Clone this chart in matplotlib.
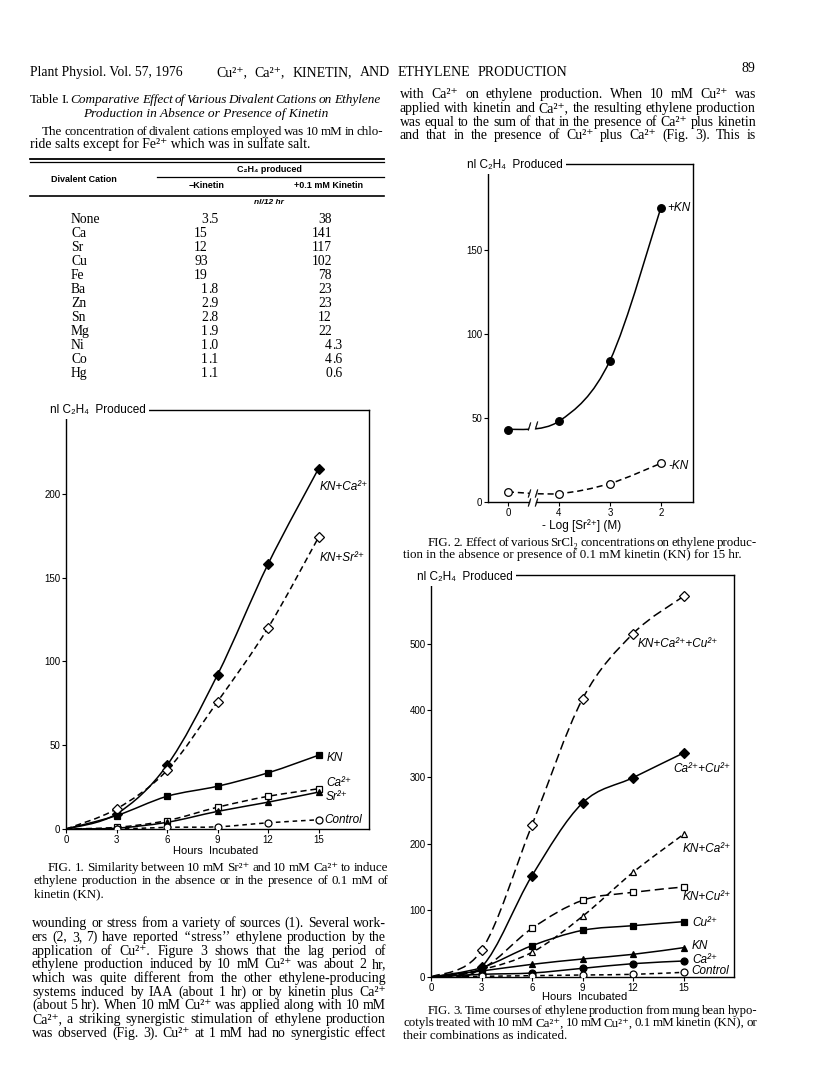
import matplotlib
matplotlib.use('Agg')
import numpy as np
import matplotlib.pyplot as plt
from matplotlib.path import Path
from matplotlib.patches import PathPatch, Rectangle
from matplotlib.lines import Line2D

W, H = 816, 1090
SERIF = ['Liberation Serif', 'DejaVu Serif']
SANS = ['Liberation Sans Narrow', 'Liberation Sans', 'DejaVu Sans']
plt.rcParams['font.family'] = SANS

# Table I
cations = ['None', 'Ca', 'Sr', 'Cu', 'Fe', 'Ba', 'Zn', 'Sn', 'Mg', 'Ni', 'Co', 'Hg']
minus_kinetin = ['3.5', '15', '12', '93', '19', '1.8', '2.9', '2.8', '1.9', '1.0', '1.1', '1.1']
plus_kinetin = ['38', '141', '117', '102', '78', '23', '23', '12', '22', '4.3', '4.6', '0.6']

# Fig 1 (hours incubated)
hours = [0, 3, 6, 9, 12, 15]
f1_kn_ca = [0, 9, 38, 92, 158, 215]
f1_kn_sr = [0, 12, 35, 76, 120, 174]
f1_kn = [0, 8, 19.5, 25.5, 33.5, 44]
f1_ca = [0, 1, 5, 13, 19.5, 24]
f1_sr = [0, 0.5, 4, 10.5, 16, 22]
f1_control = [0, 0, 1, 1.3, 3.7, 5.5]

# Fig 2 (-log [Sr2+])
f2_labels = ['0', '4', '3', '2']
f2_plus_kn = [43, 48, 84, 175]
f2_minus_kn = [6, 5, 11, 23]

# Fig 3
f3_kn_ca_cu = [0, 40, 228, 417, 515, 571]
f3_ca_cu = [0, 15, 152, 261, 299, 336]
f3_kn_ca = [0, 11, 37, 91, 157, 214]
f3_kn_cu = [0, 12, 73, 115, 127, 135]
f3_cu = [0, 14, 47, 70, 77, 83]
f3_kn = [0, 9, 19, 27, 34, 44]
f3_ca = [0, 4, 6, 13, 20, 24]
f3_control = [0, 1, 2, 3, 4, 7]

fig = plt.figure(figsize=(W / 100, H / 100), dpi=100)
fig.patch.set_facecolor('white')
R = fig.canvas.get_renderer()


def put(x, y, s, size=9, fam=SERIF, ha='left', va='baseline', **kw):
    # 'baseline' shifts words with descenders, so anchor on the bottom of the "lp" box
    if va == 'baseline':
        va = 'bottom'
        y = y + 0.217 * size * 100 / 72
    return fig.text(x / W, 1 - y / H, s, fontsize=size, family=fam, ha=ha, va=va, **kw)


def justify(words, x0, x1, y, size=10, fam=SERIF, **kw):
    # place words so that the line fills x0..x1 (justified setting)
    items = [w if isinstance(w, tuple) else (w, {}) for w in words]
    while True:
        texts = [put(x0, y, w, size, fam, **{**kw, **st}) for w, st in items]
        widths = [t.get_window_extent(R).width for t in texts]
        gap = (x1 - x0 - sum(widths)) / (len(texts) - 1)
        if gap >= 1.6 or size < 6:
            break
        for t in texts:
            t.remove()
        size -= 0.1
    x = x0
    for t, w in zip(texts, widths):
        t.set_x(x / W)
        x += w + gap


def hline(x0, x1, y, lw=0.9):
    fig.add_artist(Line2D([x0 / W, x1 / W], [1 - y / H, 1 - y / H], lw=lw, color='black'))


def axes_px(l, t, r, b):
    ax = fig.add_axes([l / W, 1 - b / H, (r - l) / W, (b - t) / H])
    for sp in ax.spines.values():
        sp.set_linewidth(1.0)
    ax.tick_params(direction='out', length=3, width=0.8, labelsize=7, pad=1)
    return ax


def smooth_path(xs, ys):
    pts = np.column_stack([xs, ys]).astype(float)
    ext = np.vstack([pts[0], pts, pts[-1]])
    verts = [pts[0]]
    codes = [Path.MOVETO]
    for i in range(len(pts) - 1):
        p0, p1, p2, p3 = ext[i], ext[i + 1], ext[i + 2], ext[i + 3]
        verts += [p1 + (p2 - p0) / 6, p2 - (p3 - p1) / 6, p2]
        codes += [Path.CURVE4] * 3
    return Path(verts, codes)


def curve(ax, xs, ys, marker, filled, dash=None, ms=5, skip_first=True):
    ls = '-' if dash is None else (0, dash)
    ax.add_patch(PathPatch(smooth_path(xs, ys), fill=False, ec='black', lw=1.1, ls=ls))
    k = 1 if skip_first else 0
    ax.plot(xs[k:], ys[k:], ls='none', marker=marker, ms=ms,
            mfc='black' if filled else 'white', mec='black', mew=0.9, zorder=3)


BODY = 9.9
CAP = 9.4

# ---------- header ----------
put(30, 76, 'Plant Physiol. Vol. 57, 1976', 9.8)
justify('Cu²⁺, Ca²⁺, KINETIN, AND ETHYLENE PRODUCTION'.split(), 216, 567, 76, 10)
put(755, 72, '89', 10, ha='right')

# ---------- table I ----------
title_words = [('Table', {}), ('I.', {})] + [(w, {'style': 'italic'}) for w in
               'Comparative Effect of Various Divalent Cations on Ethylene'.split()]
justify(title_words, 30, 380, 103, 9.6)
put(206, 117, 'Production in Absence or Presence of Kinetin', 9.6, ha='center', style='italic')
justify('The concentration of divalent cations employed was 10 mM in chlo-'.split(), 42, 383, 135, BODY)
put(30, 148, 'ride salts except for Fe²⁺ which was in sulfate salt.', BODY)

hline(30, 384, 158.5, 1.3)
hline(30, 384, 161.5, 0.9)
hline(157, 384, 177, 0.9)
hline(30, 384, 196, 1.2)
put(269, 169, 'C₂H₄ produced', 6.5, SANS, ha='center', va='center', weight='bold')
put(84, 179, 'Divalent Cation', 6.5, SANS, ha='center', va='center', weight='bold')
put(207, 186, '−Kinetin', 6.5, SANS, ha='center', va='center', weight='bold')
put(329, 186, '+0.1 mM Kinetin', 6.5, SANS, ha='center', va='center', weight='bold')
put(269, 203, 'nl/12 hr', 6, SANS, ha='center', va='center', weight='bold', style='italic')

for i, (c, a, b) in enumerate(zip(cations, minus_kinetin, plus_kinetin)):
    y = 223.5 + i * 14.0
    put(71, y, c, 9.8)
    for val, xd in ((a, 208), (b, 332)):
        if '.' in val:
            ip, fp = val.split('.')
            put(xd, y, ip, 9.8, ha='right')
            put(xd, y, '.' + fp, 9.8)
        else:
            put(xd, y, val, 9.8, ha='right')

# ---------- Fig 1 ----------
ax1 = axes_px(66, 410, 369, 829)
ax1.set_xlim(0, 18)
ax1.set_ylim(0, 250)
ax1.set_xticks(hours)
ax1.set_yticks([0, 50, 100, 150, 200])
curve(ax1, hours, f1_kn_ca, 'D', True)
curve(ax1, hours, f1_kn_sr, 'D', False, dash=(4, 2.5))
curve(ax1, hours, f1_kn, 's', True)
curve(ax1, hours, f1_ca, 's', False, dash=(4, 2.5))
curve(ax1, hours, f1_sr, '^', True)
curve(ax1, hours, f1_control, 'o', False, dash=(3, 2.5))
put(50, 410, 'nl C₂H₄  Produced', 8.5, SANS, va='center',
    bbox=dict(fc='white', ec='none', pad=2))
put(216, 851, 'Hours  Incubated', 8, SANS, ha='center', va='center')
for s, x, y in [('KN+Ca²⁺', 320, 487), ('KN+Sr²⁺', 320, 558), ('KN', 327, 758),
                ('Ca²⁺', 326, 783), ('Sr²⁺', 326, 797), ('Control', 324, 820)]:
    put(x, y, s, 8.5, SANS, va='center', style='italic')

justify('FIG. 1. Similarity between 10 mM Sr²⁺ and 10 mM Ca²⁺ to induce'.split(), 48, 388, 871.5, CAP)
justify('ethylene production in the absence or in the presence of 0.1 mM of'.split(), 34, 388, 884.5, CAP)
put(34, 897, 'kinetin (KN).', CAP)

body = ['wounding or stress from a variety of sources (1). Several work-',
        'ers (2, 3, 7) have reported ‘‘stress’’ ethylene production by the',
        'application of Cu²⁺. Figure 3 shows that the lag period of',
        'ethylene production induced by 10 mM Cu²⁺ was about 2 hr,',
        'which was quite different from the other ethylene-producing',
        'systems induced by IAA (about 1 hr) or by kinetin plus Ca²⁺',
        '(about 5 hr). When 10 mM Cu²⁺ was applied along with 10 mM',
        'Ca²⁺, a striking synergistic stimulation of ethylene production',
        'was observed (Fig. 3). Cu²⁺ at 1 mM had no synergistic effect']
for i, line in enumerate(body):
    justify(line.split(), 32, 386, 927.5 + i * 13.65, BODY)

# ---------- right column text ----------
top_right = ['with Ca²⁺ on ethylene production. When 10 mM Cu²⁺ was',
             'applied with kinetin and Ca²⁺, the resulting ethylene production',
             'was equal to the sum of that in the presence of Ca²⁺ plus kinetin',
             'and that in the presence of Cu²⁺ plus Ca²⁺ (Fig. 3). This is']
for i, line in enumerate(top_right):
    justify(line.split(), 400, 756, 98.5 + i * 13.65, BODY)

# ---------- Fig 2 ----------
ax2 = axes_px(488, 164, 693, 502)
pos = np.arange(len(f2_labels))
ax2.set_xlim(-0.39, 3.63)
ax2.set_ylim(0, 201)
ax2.set_xticks(pos)
ax2.set_xticklabels(f2_labels)
ax2.set_yticks([0, 50, 100, 150])
ax2.spines['bottom'].set_visible(False)
gap_lo, gap_hi = 0.42, 0.55
for a, b in ((-0.39, gap_lo), (gap_hi, 3.63)):
    ax2.plot([a, b], [0, 0], color='black', lw=1.0, clip_on=False)
for g in (gap_lo, gap_hi):
    ax2.plot(g, 0, marker='$/$', ms=5.5, color='black', mew=0.3, clip_on=False)

for vals, filled, dash in ((f2_plus_kn, True, None), (f2_minus_kn, False, (4, 2.5))):
    path = smooth_path(pos, vals)
    ls = '-' if dash is None else (0, dash)
    for a, b in ((-1, gap_lo), (gap_hi, 10)):
        p = PathPatch(path, fill=False, ec='black', lw=1.1, ls=ls)
        ax2.add_patch(p)
        p.set_clip_path(Rectangle((a, -100), b - a, 1000, transform=ax2.transData))
    for g in (gap_lo, gap_hi):
        ax2.plot(g, np.interp(g, pos, vals), marker='$/$', ms=5.5, mew=0.3, color='black')
    ax2.plot(pos, vals, ls='none', marker='o', ms=5.5,
             mfc='black' if filled else 'white', mec='black', mew=0.9, zorder=3)
put(467, 165, 'nl C₂H₄  Produced', 8.5, SANS, va='center',
    bbox=dict(fc='white', ec='none', pad=2))
put(582, 526, '- Log [Sr²⁺] (M)', 8.5, SANS, ha='center', va='center')
put(667, 208, '+KN', 8.5, SANS, va='center', style='italic')
put(668, 466, '-KN', 8.5, SANS, va='center', style='italic')
justify('FIG. 2. Effect of various SrCl₂ concentrations on ethylene produc-'.split(), 428, 757, 546.5, CAP)
put(403, 558.5, 'tion in the absence or presence of 0.1 mM kinetin (KN) for 15 hr.', CAP)

# ---------- Fig 3 ----------
ax3 = axes_px(431, 575, 734, 977)
ax3.set_xlim(0, 18)
ax3.set_ylim(0, 603)
ax3.set_xticks(hours)
ax3.set_yticks([0, 100, 200, 300, 400, 500])
curve(ax3, hours, f3_kn_ca_cu, 'D', False, dash=(6, 3))
curve(ax3, hours, f3_ca_cu, 'D', True)
curve(ax3, hours, f3_kn_ca, '^', False, dash=(4, 2.5))
curve(ax3, hours, f3_kn_cu, 's', False, dash=(6, 3))
curve(ax3, hours, f3_cu, 's', True)
curve(ax3, hours, f3_kn, '^', True)
curve(ax3, hours, f3_ca, 'o', True)
curve(ax3, hours, f3_control, 'o', False, dash=(3, 2.5))
put(417, 577, 'nl C₂H₄  Produced', 8.5, SANS, va='center',
    bbox=dict(fc='white', ec='none', pad=2))
put(585, 997, 'Hours  Incubated', 8, SANS, ha='center', va='center')
for s, x, y in [('KN+Ca²⁺+Cu²⁺', 638, 644), ('Ca²⁺+Cu²⁺', 673, 769), ('KN+Ca²⁺', 683, 849),
                ('KN+Cu²⁺', 683, 897), ('Cu²⁺', 692, 923), ('KN', 692, 946),
                ('Ca²⁺', 692, 960), ('Control', 691, 971)]:
    put(x, y, s, 8.5, SANS, va='center', style='italic')
justify('FIG. 3. Time courses of ethylene production from mung bean hypo-'.split(), 428, 757, 1014.5, CAP)
justify('cotyls treated with 10 mM Ca²⁺, 10 mM Cu²⁺, 0.1 mM kinetin (KN), or'.split(), 403, 757, 1026.5, CAP)
put(403, 1039.5, 'their combinations as indicated.', CAP)

fig.savefig('out.png', dpi=100, facecolor='white')
